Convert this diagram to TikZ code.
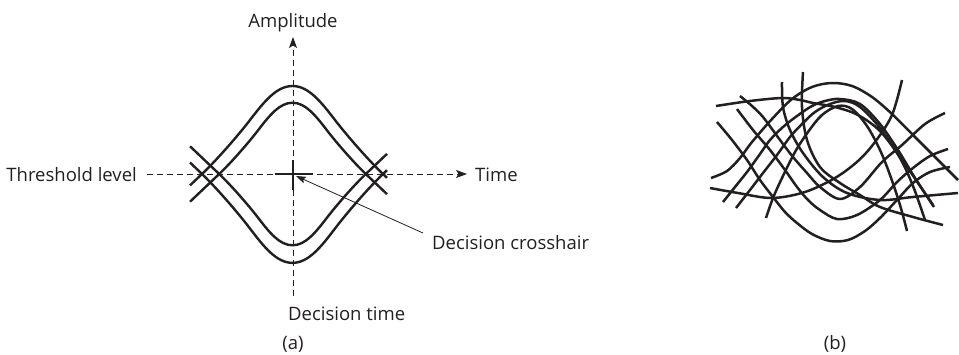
\documentclass[tikz,border=0pt]{standalone}
\usepackage{fontspec}
\setmainfont{Open Sans}
\usetikzlibrary{arrows.meta}
\definecolor{ink}{HTML}{231F20}
% one eye trace (top half shape, local coordinates, y downwards)
\newcommand\eyetrace[2]{#1 -- (-90.5,0) .. controls (-75.5,-14.25) and (-54.5,-38.4) .. (-42.5,-54)
  .. controls (-28.5,-72.2) and (-16,-88) .. (0,-88)
  .. controls (16,-88) and (28.5,-72.2) .. (42.5,-54)
  .. controls (54.5,-38.4) and (75.5,-14.25) .. (90.5,0) -- #2}
\begin{document}
\begin{tikzpicture}[x=1pt,y=-1pt,
  eye/.style={line width=2.4pt, draw=ink, line cap=butt, line join=round},
  tangle/.style={line width=2.5pt, draw=ink, line cap=butt, line join=round},
  axisline/.style={line width=0.9pt, draw=ink, dash pattern=on 6pt off 4pt,
     -{Stealth[length=11pt,width=8pt,inset=2.5pt]}},
  pointer/.style={line width=0.8pt, draw=ink, -{Stealth[length=10pt,width=7pt,inset=2pt]}},
  crossbar/.style={line width=1.3pt, draw=ink},
  lbl/.style={inner sep=0pt, text=ink, font=\fontsize{18.5}{22}\selectfont}]
\useasboundingbox (0,0) rectangle (959,354);

% ---------- panel (a) ----------
\node[lbl, anchor=base] (amp) at (293,27) {Amplitude};
\node[lbl, anchor=base east] (thr) at (137,181) {Threshold level};
\node[lbl, anchor=base west] (time) at (475,181) {Time};
\node[lbl, anchor=base west] (dtime) at (288,320) {Decision time};
\node[lbl, anchor=base west] (dcross) at (432,249) {Decision crosshair};
\node[lbl, anchor=base] (capa) at (293,349) {(a)};
\node[lbl, anchor=base] (capb) at (835,349) {(b)};

\coordinate (vbot) at (293,296);
\coordinate (vtop) at (293,37);
\coordinate (hleft) at (147,174);
\coordinate (hright) at (467,174);
\coordinate (cross) at (293,174);
\coordinate (dcfrom) at (423,233);
\coordinate (dctip) at (296,176);

\draw[axisline] (vbot) -- (vtop);
\draw[axisline] (hleft) -- (hright);

% eye traces
\begin{scope}[shift={(292.5,174)}]
  \draw[eye] \eyetrace{(-102.5,11.4)}{(94.5,3.8)};
  \draw[eye, yscale=-1.01] \eyetrace{(-102.5,11.4)}{(94.5,3.8)};
  \draw[eye, scale=0.81] \eyetrace{(-126.5,34.2)}{(116.7,24.9)};
  \draw[eye, xscale=0.81, yscale=-0.81] \eyetrace{(-126.5,34.2)}{(116.7,24.9)};
\end{scope}

% crosshair
\draw[crossbar] ([xshift=-18pt]cross) -- ([xshift=20pt]cross);
\draw[crossbar] ([yshift=-16pt]cross) -- ([yshift=14pt]cross);

\draw[pointer] (dcfrom) -- (dctip);

% ---------- panel (b) ----------
\draw[tangle] plot[smooth, tension=0.55] coordinates {(711,178) (727,171) (740,158) (752,142) (772,119) (792,99) (812,87) (832,83) (852,86) (872,97) (892,114) (915,137) (937,159) (958,180)};
\draw[tangle] plot[smooth, tension=0.55] coordinates {(717,122) (732,140) (747,160) (760,180) (773,197) (785,212) (797,223) (812,234) (830,241) (848,240) (865,231) (880,218) (897,200) (913,183) (930,172) (950,167)};
\draw[tangle] plot[smooth, tension=0.55] coordinates {(737,109) (753,130) (770,150) (785,170) (797,187) (808,200) (820,210) (837,219) (857,215) (880,200) (897,182) (913,168) (930,156) (948,149)};
\draw[tangle] plot[smooth, tension=0.55] coordinates {(740,96) (752,106) (763,117) (780,140) (793,157) (807,173) (820,187) (840,199) (860,187) (882,162) (902,145) (925,124) (945,113)};
\draw[tangle] plot[smooth, tension=0.55] coordinates {(710,188) (738,193) (772,198) (805,192) (835,178) (858,161) (875,142) (892,115) (902,80)};
\draw[tangle] plot[smooth, tension=0.55] coordinates {(716,106) (750,101) (782,98) (800,100) (813,103) (835,107) (858,115) (880,131) (900,157) (918,183) (934,207)};
\draw[tangle] plot[smooth, tension=0.55] coordinates {(723,202) (735,187) (747,172) (760,154) (770,140) (783,127) (797,116) (812,106) (825,101) (840,99) (860,104) (880,124) (898,150) (915,178) (933,205)};
\draw[tangle] plot[smooth, tension=0.55] coordinates {(736,208) (750,190) (763,173) (777,155) (790,137) (802,124) (815,112) (830,104) (845,101) (860,107) (880,128) (900,158) (913,186) (925,220)};
\draw[tangle] plot[smooth, tension=0.55] coordinates {(766,218) (773,198) (782,178) (795,152) (808,132) (822,115) (838,106) (852,109) (867,126) (880,150) (890,175) (900,205) (907,231)};
\draw[tangle] plot[smooth, tension=0.55] coordinates {(782,82) (783,107) (790,130) (803,153) (823,177) (847,193) (880,200) (913,197) (958,193)};
\draw[tangle] plot[smooth, tension=0.55] coordinates {(803,72) (802,107) (807,140) (820,167) (840,183) (860,195) (880,207) (913,217) (943,225)};
\end{tikzpicture}
\end{document}
